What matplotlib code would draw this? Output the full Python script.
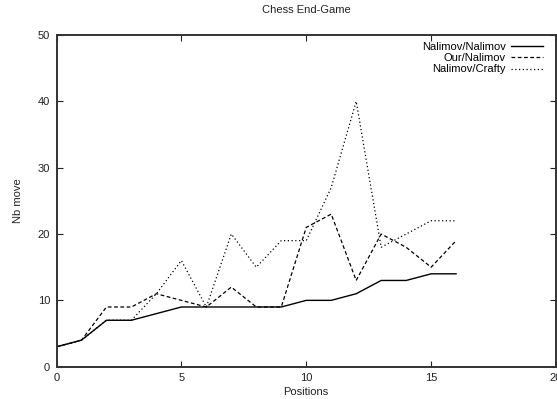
import matplotlib
matplotlib.use("Agg")
import matplotlib.pyplot as plt

plt.rcParams['font.family'] = ['Liberation Sans', 'DejaVu Sans']

positions = list(range(17))
nalimov_nalimov = [3, 4, 7, 7, 8, 9, 9, 9, 9, 9, 10, 10, 11, 13, 13, 14, 14]
our_nalimov = [3, 4, 9, 9, 11, 10, 9, 12, 9, 9, 21, 23, 13, 20, 18, 15, 19]
nalimov_crafty = [3, 4, 7, 7, 11, 16, 9, 20, 15, 19, 19, 27, 40, 18, 20, 22, 22]

labels = ["Nalimov/Nalimov", "Our/Nalimov", "Nalimov/Crafty"]
xticks = [0, 5, 10, 15, 20]
yticks = [0, 10, 20, 30, 40, 50]

FS = 8

fig = plt.figure(figsize=(5.57, 3.99), dpi=100)
ax = fig.add_axes([56.5 / 557, 32.3 / 399, (556 - 56.5) / 557, (366.7 - 35) / 399])

ax.plot(positions, nalimov_nalimov, color='black', lw=1.0, label=labels[0])
ax.plot(positions, our_nalimov, color='black', lw=0.9, linestyle=(0, (3, 2)), label=labels[1])
ax.plot(positions, nalimov_crafty, color='black', lw=0.9, linestyle=(0, (1, 2)), label=labels[2])

ax.set_xlim(0, 20)
ax.set_ylim(0, 50)
ax.set_xticks(xticks)
ax.set_yticks(yticks)
ax.tick_params(direction='in', length=4, width=0.8, labelsize=FS,
               top=True, right=True, colors='#222222', pad=4.5)
ax.set_xticklabels([str(t) for t in xticks])
for s in ax.spines.values():
    s.set_linewidth(1.4)
    s.set_color('#333333')

ax.set_title("Chess End-Game", fontsize=FS, pad=16, color='#222222')
ax.set_xlabel("Positions", fontsize=FS, labelpad=3, color='#222222')
ax.set_ylabel("Nb move", fontsize=FS, labelpad=11, color='#222222')

leg = ax.legend(loc='upper right', bbox_to_anchor=(1 - 8.6 / 499.5, 1 - 2.3 / 331.7),
                frameon=False, markerfirst=False, fontsize=FS,
                handlelength=2.9, handletextpad=0.45, labelspacing=0.12,
                borderaxespad=0)

fig.savefig("out.png", dpi=100)
